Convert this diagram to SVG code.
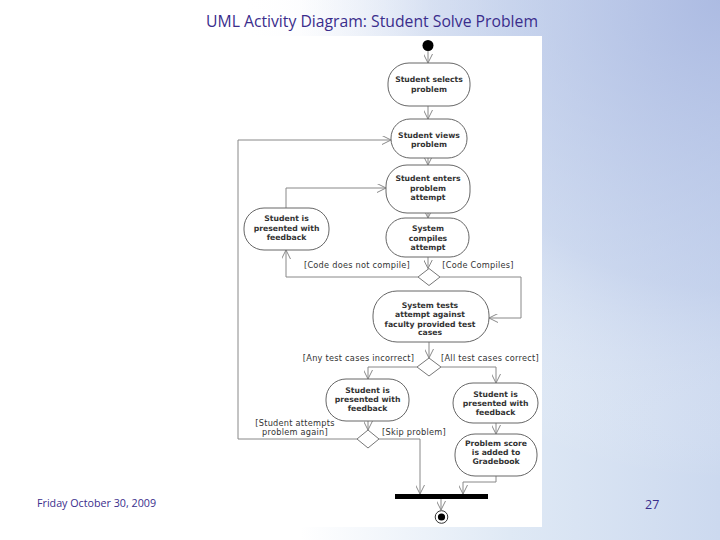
<svg xmlns="http://www.w3.org/2000/svg" width="720" height="540" viewBox="0 0 720 540">
<defs>
<linearGradient id="bgh" gradientUnits="userSpaceOnUse" x1="300" y1="0" x2="720" y2="0">
<stop offset="0" stop-color="#ffffff"/>
<stop offset="0.5" stop-color="#dfe9f5"/>
<stop offset="1" stop-color="#ccd9ef"/>
</linearGradient>
<radialGradient id="bgr" gradientUnits="userSpaceOnUse" cx="720" cy="0" r="480">
<stop offset="0" stop-color="#a9b8e1" stop-opacity="0.9"/>
<stop offset="0.6" stop-color="#b8c6e8" stop-opacity="0.4"/>
<stop offset="1" stop-color="#ffffff" stop-opacity="0"/>
</radialGradient>
<marker id="arr" viewBox="0 0 10 10" refX="10" refY="5" markerWidth="9" markerHeight="9" markerUnits="userSpaceOnUse" orient="auto">
<path d="M0,0 L10,5 L0,10" fill="none" stroke="#888" stroke-width="1.1"/>
</marker>
<style>
.node rect{fill:#fff;stroke:#666;stroke-width:1}
.node text,.lbl{font-family:"DejaVu Sans",sans-serif;fill:#333;text-anchor:middle}
.node text{font-size:7.7px;font-weight:bold}
.lbl{font-size:8.2px;letter-spacing:0.25px}
.dia{fill:#fff;stroke:#777;stroke-width:1}
#edges path{fill:none;stroke:#888;stroke-width:1;marker-end:url(#arr)}
.slide{font-family:"Open Sans","Liberation Sans",sans-serif;fill:#3a2d8c}
</style>
</defs>
<rect width="720" height="540" fill="url(#bgh)"/>
<rect width="720" height="540" fill="url(#bgr)"/>
<rect x="232" y="36" width="310" height="491" fill="#fff"/>
<text class="slide" x="372" y="27" font-size="15.5" text-anchor="middle" textLength="332" lengthAdjust="spacingAndGlyphs">UML Activity Diagram: Student Solve Problem</text>
<text class="slide" x="37" y="507" font-size="11.5" textLength="119" lengthAdjust="spacingAndGlyphs">Friday October 30, 2009</text>
<text class="slide" x="645" y="509" font-size="12.5">27</text>

<g id="edges">
<path d="M428,51 V63"/>
<path d="M428,106 V119"/>
<path d="M428,158 V165"/>
<path d="M428,213 V218"/>
<path d="M428,257 V268.5"/>
<path d="M418,277 H286 V250"/>
<path d="M286,208 V188 H386"/>
<path d="M440,277 H521 V318 H489"/>
<path d="M429,342 V358"/>
<path d="M417,367 H368 V379"/>
<path d="M441,367 H496 V383"/>
<path d="M368,421 V430"/>
<path d="M357,439 H238 V140 H391"/>
<path d="M379,439 H420 V494"/>
<path d="M496,423 V434"/>
<path d="M496,476 V482 H463 V494"/>
<path d="M441,499 V510"/>
</g>

<g id="initial"><circle cx="428" cy="45.5" r="5.5" fill="#000"/></g>

<g id="n1" class="node"><rect x="388" y="63" width="82" height="43" rx="21" ry="20"/>
<text x="429" y="82">Student selects</text><text x="429" y="91.5">problem</text></g>

<g id="n2" class="node"><rect x="391" y="119" width="76" height="39" rx="19" ry="19"/>
<text x="429" y="138">Student views</text><text x="429" y="147">problem</text></g>

<g id="n3" class="node"><rect x="386" y="165" width="84" height="48" rx="21" ry="21"/>
<text x="428" y="181">Student enters</text><text x="428" y="190.5">problem</text><text x="428" y="200">attempt</text></g>

<g id="n4" class="node"><rect x="386" y="218" width="83" height="39" rx="19" ry="19"/>
<text x="428" y="231">System</text><text x="428" y="241">compiles</text><text x="428" y="250">attempt</text></g>

<g id="n5" class="node"><rect x="244" y="208" width="85" height="42" rx="20" ry="20"/>
<text x="286.5" y="221">Student is</text><text x="286.5" y="231">presented with</text><text x="286.5" y="240">feedback</text></g>

<g id="d1"><path class="dia" d="M429,268.5 L440,277 L429,285.5 L418,277 Z"/></g>

<g id="n6" class="node"><rect x="373" y="291" width="116" height="51" rx="24" ry="24"/>
<text x="430" y="308">System tests</text><text x="430" y="317">attempt against</text><text x="430" y="326.5">faculty provided test</text><text x="430" y="335">cases</text></g>

<g id="d2"><path class="dia" d="M429,358 L441,367 L429,376 L417,367 Z"/></g>

<g id="n7" class="node"><rect x="326" y="379" width="83" height="42" rx="20" ry="20"/>
<text x="367.5" y="393">Student is</text><text x="367.5" y="402">presented with</text><text x="367.5" y="411">feedback</text></g>

<g id="n8" class="node"><rect x="453" y="383" width="85" height="40" rx="20" ry="20"/>
<text x="495.5" y="397">Student is</text><text x="495.5" y="406">presented with</text><text x="495.5" y="415">feedback</text></g>

<g id="d3"><path class="dia" d="M368,430 L379,439 L368,448 L357,439 Z"/></g>

<g id="n9" class="node"><rect x="455" y="434" width="82" height="42" rx="20" ry="20"/>
<text x="496" y="445.5">Problem score</text><text x="496" y="454.5">is added to</text><text x="496" y="463.5">Gradebook</text></g>

<g id="bar"><rect x="395" y="494" width="93" height="5" fill="#000"/></g>

<g id="final"><circle cx="441.5" cy="517" r="6.3" fill="#fff" stroke="#333" stroke-width="1"/><circle cx="441.5" cy="517" r="3.6" fill="#000"/></g>

<g id="labels">
<text class="lbl" x="357" y="268">[Code does not compile]</text>
<text class="lbl" x="478" y="268">[Code Compiles]</text>
<text class="lbl" x="358.5" y="361">[Any test cases incorrect]</text>
<text class="lbl" x="490" y="361">[All test cases correct]</text>
<text class="lbl" x="295" y="425.5">[Student attempts</text>
<text class="lbl" x="295" y="434.5">problem again]</text>
<text class="lbl" x="414" y="434.5">[Skip problem]</text>
</g>
</svg>
